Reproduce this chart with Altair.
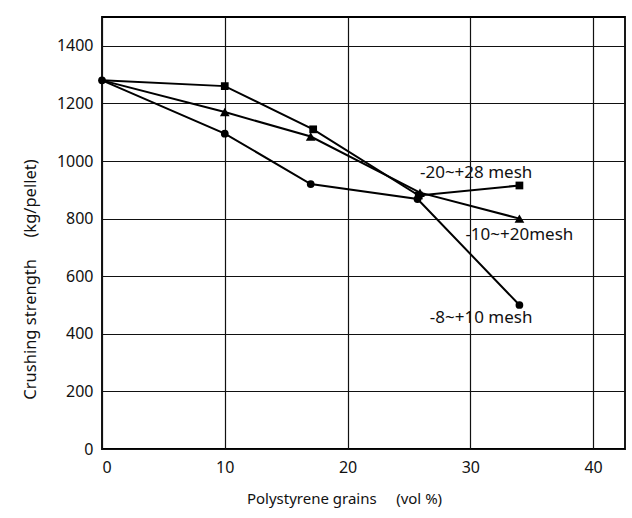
import altair as alt
import pandas as pd

# Data
x_vals = [0, 10, 17, 25.7, 34]
coarse_y = [1280, 1095, 920, 868, 500]      # -8~+10 mesh (circles)
medium_x = [0, 10, 17, 25.9, 34]
medium_y = [1280, 1170, 1085, 890, 800]     # -10~+20 mesh (triangles)
fine_x = [0, 10, 17.2, 25.8, 34]
fine_y = [1280, 1260, 1110, 880, 915]       # -20~+28 mesh (squares)

series_names = ["-8~+10 mesh", "-10~+20mesh", "-20~+28 mesh"]
series_shapes = ["circle", "triangle-up", "square"]
series_sizes = [60, 95, 60]

label_text = ["-20~+28 mesh", "-10~+20mesh", "-8~+10 mesh"]
label_x = [25.9, 29.6, 26.7]
label_y = [959, 743, 455]

x_ticks = [0, 10, 20, 30, 40]
y_ticks = [0, 200, 400, 600, 800, 1000, 1200, 1400]

rows = []
for name, xs, ys in [(series_names[0], x_vals, coarse_y),
                     (series_names[1], medium_x, medium_y),
                     (series_names[2], fine_x, fine_y)]:
    for i, (xv, yv) in enumerate(zip(xs, ys)):
        rows.append({"series": name, "x": xv, "y": yv, "idx": i})
df = pd.DataFrame(rows)
labels = pd.DataFrame({"text": label_text, "x": label_x, "y": label_y})

FONT = "Noto Sans"
NB = "\u00a0"

xscale = alt.Scale(domain=[0, 42.6], nice=False, zero=False)
yscale = alt.Scale(domain=[0, 1500], nice=False, zero=False)

xaxis = alt.Axis(values=x_ticks, format="d",
                 title="Polystyrene grains" + NB * 5 + "(vol %)",
                 grid=True, gridColor="#111111", gridWidth=1.2, gridOpacity=1,
                 ticks=False, domain=False, labelPadding=10,
                 labelFontSize=16, labelColor="#111111", labelFont=FONT,
                 titleFontSize=15, titleFontWeight="normal", titleFont=FONT,
                 titleColor="#111111", titleY=42, titleX=242)
yaxis = alt.Axis(values=y_ticks, format="d",
                 title="Crushing strength" + NB * 5 + "(kg/pellet)",
                 grid=True, gridColor="#111111", gridWidth=1.2, gridOpacity=1,
                 ticks=False, domain=False, labelPadding=9,
                 labelFontSize=16, labelColor="#111111", labelFont=FONT,
                 titleFontSize=16.5, titleFontWeight="normal", titleFont=FONT,
                 titleColor="#111111", titleX=-72, titleY=262,
                 titleAngle=-90, titleBaseline="middle", titleAlign="center")

base = alt.Chart(df)

lines = base.mark_line(color="black", strokeWidth=2).encode(
    x=alt.X("x:Q", scale=xscale, axis=xaxis),
    y=alt.Y("y:Q", scale=yscale, axis=yaxis),
    detail="series:N",
    order="idx:Q",
)

point_layers = []
for k, (name, shape, size) in enumerate(zip(series_names, series_shapes, series_sizes)):
    flt = (alt.datum.series == name)
    if k > 0:
        flt = flt & (alt.datum.idx > 0)
    point_layers.append(
        base.transform_filter(flt).mark_point(
            filled=True, color="black", opacity=1, shape=shape, size=size
        ).encode(
            x=alt.X("x:Q", scale=xscale),
            y=alt.Y("y:Q", scale=yscale),
        )
    )

texts = alt.Chart(labels).mark_text(
    align="left", baseline="middle", fontSize=17, font=FONT, color="#111111"
).encode(
    x=alt.X("x:Q", scale=xscale),
    y=alt.Y("y:Q", scale=yscale),
    text="text:N",
)

chart = alt.layer(lines, *point_layers, texts).properties(
    width=523, height=432,
    autosize=alt.AutoSizeParams(type="none"),
    padding={"left": 102, "top": 17, "right": 7, "bottom": 69},
    background="white",
).configure_view(stroke="black", strokeWidth=1.8)

chart.save("out.html", embed_options={"renderer": "svg", "actions": False})
